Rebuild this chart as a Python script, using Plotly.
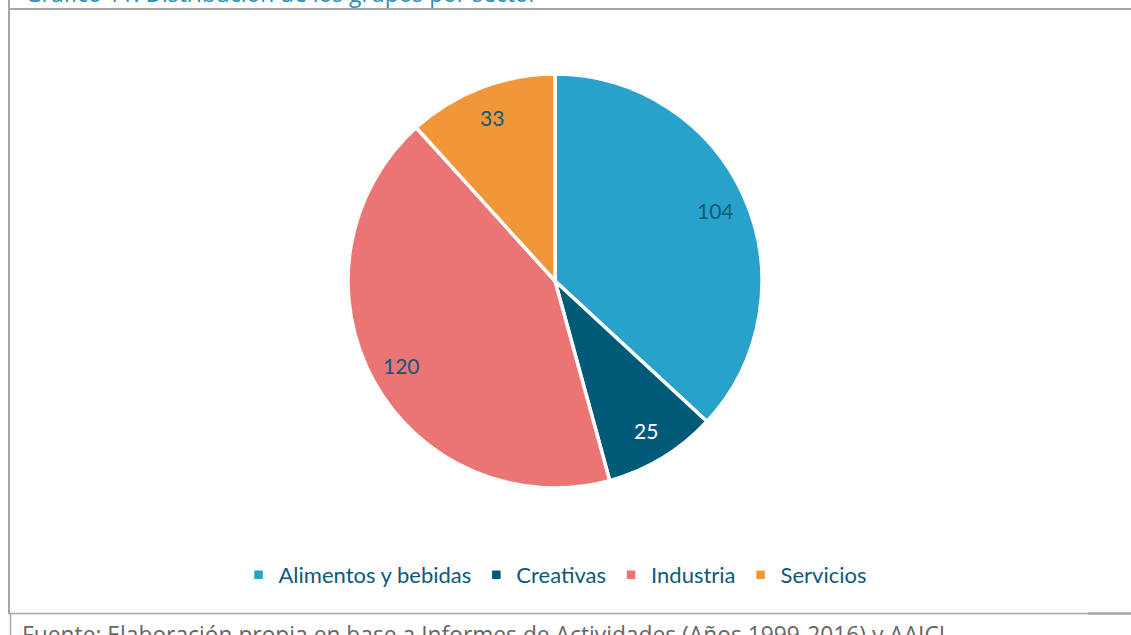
import math
import plotly.graph_objects as go

# ---- data ----
categories = ["Alimentos y bebidas", "Creativas", "Industria", "Servicios"]
values = [104, 25, 120, 33]
colors = ["#29A2CB", "#015A78", "#EB7575", "#F2963A"]
label_colors = ["#0D5A78", "#FFFFFF", "#0D5A78", "#0D5A78"]
title_text = "Gráfico 11: Distribución de los grupos por sector"
source_text = "Fuente: Elaboración propia en base a Informes de Actividades (Años 1999-2016) y AAICI."

W, H = 1131, 635
cx, cy, R = 555, 281, 207  # pie centre / radius in pixels

def px(x):
    return x / W

def py(y):
    return 1 - y / H

fig = go.Figure()
fig.add_trace(go.Pie(
    labels=categories,
    values=values,
    sort=False,
    direction="clockwise",
    rotation=0,
    marker=dict(colors=colors, line=dict(color="white", width=3.5)),
    textinfo="none",
    hoverinfo="label+value",
    domain=dict(x=[px(cx - R), px(cx + R)], y=[py(cy + R), py(cy - R)]),
))

# data labels placed along each slice's mid angle
total = sum(values)
annotations = []
cum = 0
for v, c in zip(values, label_colors):
    mid = (cum + v / 2) / total * 2 * math.pi
    cum += v
    r = 0.845 * R
    lx = cx + r * math.sin(mid)
    ly = cy - r * math.cos(mid)
    annotations.append(dict(
        x=px(lx), y=py(ly), xref="paper", yref="paper",
        text=str(v), showarrow=False,
        font=dict(family="Lato", size=21, color=c),
        xanchor="center", yanchor="middle",
    ))

annotations.append(dict(
    x=px(23), y=py(-6.5), xref="paper", yref="paper",
    text=title_text, showarrow=False, xanchor="left", yanchor="middle",
    font=dict(family="Open Sans", size=22.8, color="#2C8DB4"),
))
annotations.append(dict(
    x=px(20), y=py(634), xref="paper", yref="paper",
    text=source_text, showarrow=False, xanchor="left", yanchor="middle",
    font=dict(family="Open Sans", size=22.8, color="#666666"),
))

line_col = "#A6A6A6"
shapes = [
    dict(type="line", xref="paper", yref="paper", x0=px(9), x1=px(9), y0=py(0), y1=py(614),
         line=dict(color=line_col, width=2)),
    dict(type="line", xref="paper", yref="paper", x0=px(10.5), x1=px(10.5), y0=py(614), y1=py(640),
         line=dict(color=line_col, width=1.5)),
    dict(type="line", xref="paper", yref="paper", x0=px(9), x1=px(1131), y0=py(9), y1=py(9),
         line=dict(color=line_col, width=2)),
    dict(type="line", xref="paper", yref="paper", x0=px(9), x1=px(1131), y0=py(613.5), y1=py(613.5),
         line=dict(color=line_col, width=1.5)),
    dict(type="line", xref="paper", yref="paper", x0=px(1088), x1=px(1131), y0=py(613.5), y1=py(613.5),
         line=dict(color=line_col, width=2.5)),
]

fig.update_layout(
    width=W, height=H,
    margin=dict(l=0, r=0, t=0, b=0),
    paper_bgcolor="white",
    plot_bgcolor="white",
    showlegend=True,
    legend=dict(
        orientation="h", x=px(555), xanchor="center", y=py(575), yanchor="middle",
        font=dict(family="Lato", size=22, color="#0D5A78"),
        itemclick=False, traceorder="normal",
    ),
    annotations=annotations,
    shapes=shapes,
)

fig.write_html(
    "out.html",
    config={"displayModeBar": False},
    post_script="document.body.style.margin='0px';document.body.style.overflow='hidden';",
)
